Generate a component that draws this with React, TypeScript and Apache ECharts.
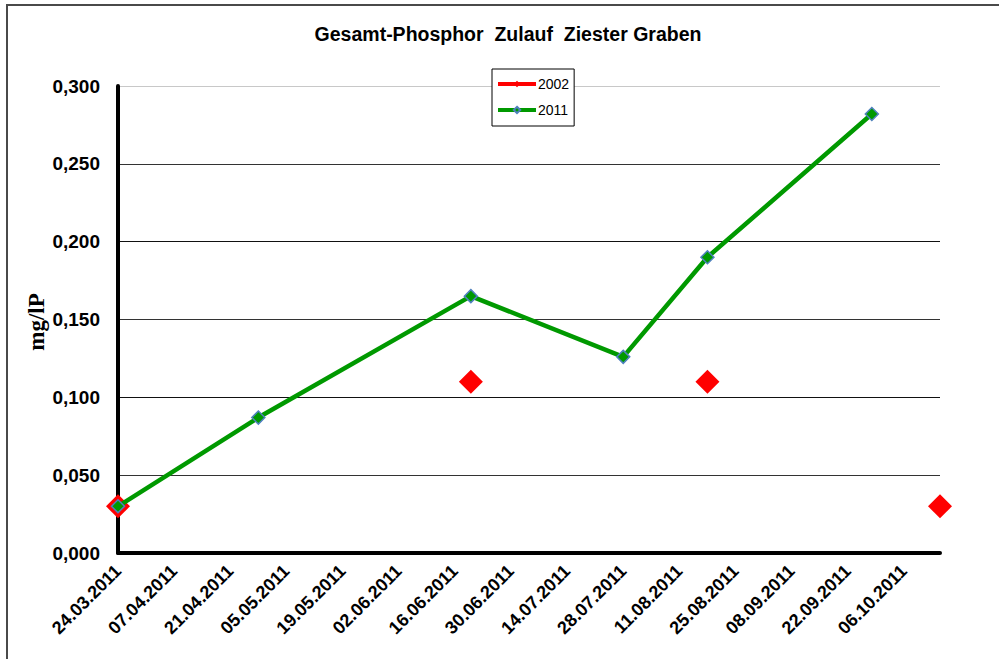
import React, { useEffect, useRef } from "react";
import * as echarts from "echarts";

const TITLE = "Gesamt-Phosphor  Zulauf  Ziester Graben";
const Y_NAME = "mg/lP";
const AXIS_START = "24.03.2011";
const AXIS_END = "15.10.2011";
const TICK_STEP_DAYS = 14;
const Y_TICKS = [0, 0.05, 0.1, 0.15, 0.2, 0.25, 0.3];

const dates2002 = ["24.03.2011", "20.06.2011", "18.08.2011", "15.10.2011"];
const values2002 = [0.03, 0.11, 0.11, 0.03];

const dates2011 = ["24.03.2011", "28.04.2011", "20.06.2011", "28.07.2011", "18.08.2011", "28.09.2011"];
const values2011 = [0.03, 0.087, 0.165, 0.126, 0.19, 0.282];

const DAY = 86400000;
function parseDate(s: string): number {
  const [d, m, y] = s.split(".").map(Number);
  return Date.UTC(y, m - 1, d);
}
const T0 = parseDate(AXIS_START);
const dayOf = (s: string) => Math.round((parseDate(s) - T0) / DAY);
function fmtDay(n: number): string {
  const dt = new Date(T0 + n * DAY);
  const dd = String(dt.getUTCDate()).padStart(2, "0");
  const mm = String(dt.getUTCMonth() + 1).padStart(2, "0");
  return `${dd}.${mm}.${dt.getUTCFullYear()}`;
}

export default function App() {
  const ref = useRef<HTMLDivElement>(null);
  useEffect(() => {
    document.body.style.margin = "0";
    const chart = echarts.init(ref.current!, undefined, { renderer: "svg" });
    const font = "Arial, 'Liberation Sans', sans-serif";
    chart.setOption({
      animation: false,
      backgroundColor: "#ffffff",
      title: {
        text: TITLE,
        left: 503,
        top: 19,
        textAlign: "center",
        textStyle: { fontFamily: font, fontWeight: "bold", fontSize: 19.5, color: "#000" },
      },
      legend: {
        orient: "vertical",
        left: 492,
        top: 69,
        padding: [8, 5, 9, 4],
        itemGap: 12,
        itemWidth: 38,
        itemHeight: 8,
        backgroundColor: "#fff",
        borderColor: "#000",
        borderWidth: 1,
        textStyle: { fontFamily: font, fontSize: 14, color: "#000", padding: [0, 0, 0, -3] },
        data: [
          { name: "2002", lineStyle: { color: "#ff0000", width: 4, opacity: 1 } },
          { name: "2011", lineStyle: { color: "#009900", width: 4, opacity: 1 } },
        ],
      },
      grid: { left: 118, right: 59, top: 86, bottom: 106 },
      xAxis: {
        type: "value",
        min: 0,
        max: dayOf(AXIS_END),
        interval: TICK_STEP_DAYS,
        axisLine: { show: true, onZero: false, lineStyle: { color: "#000", width: 4 } },
        axisTick: { show: false },
        splitLine: { show: false },
        axisLabel: {
          rotate: 45,
          margin: 15,
          showMaxLabel: false,
          fontFamily: font,
          fontWeight: "bold",
          fontSize: 18,
          color: "#000",
          formatter: (v: number) => fmtDay(v),
        },
      },
      yAxis: {
        type: "value",
        min: Y_TICKS[0],
        max: Y_TICKS[Y_TICKS.length - 1],
        interval: Y_TICKS[1] - Y_TICKS[0],
        axisLine: { show: true, onZero: false, lineStyle: { color: "#000", width: 4 } },
        axisTick: { show: false },
        splitLine: {
          show: true,
          lineStyle: { color: ["#000", "#333", "#111", "#333", "#111", "#333", "#c8c8c8"], width: 1 },
        },
        axisLabel: {
          margin: 18,
          fontFamily: font,
          fontWeight: "bold",
          fontSize: 19,
          color: "#000",
          formatter: (v: number) => v.toFixed(3).replace(".", ","),
        },
      },
      graphic: [
        {
          type: "rect",
          shape: { x: 7, y: 5, width: 1100, height: 800 },
          style: { fill: "none", stroke: "#4a4a4a", lineWidth: 2 },
          silent: true,
        },
        {
          type: "text",
          x: 36,
          y: 322,
          rotation: Math.PI / 2,
          style: {
            text: Y_NAME,
            fontFamily: "'Times New Roman', 'Liberation Serif', serif",
            fontWeight: "bold",
            fontSize: 23,
            fill: "#000",
            align: "center",
            verticalAlign: "middle",
          },
        },
      ],
      series: [
        {
          name: "2002",
          type: "line",
          data: dates2002.map((d, i) => [dayOf(d), values2002[i]]),
          symbol: "diamond",
          symbolSize: 24,
          lineStyle: { color: "#ff0000", width: 4, opacity: 0 },
          itemStyle: { color: "#ff0000" },
          z: 2,
        },
        {
          name: "2011",
          type: "line",
          data: dates2011.map((d, i) => [dayOf(d), values2011[i]]),
          symbol: "diamond",
          symbolSize: 13,
          lineStyle: { color: "#009900", width: 4.5 },
          itemStyle: { color: "#009900", borderColor: "#4f81bd", borderWidth: 1.5 },
          z: 3,
        },
      ],
    });
    return () => chart.dispose();
  }, []);
  return <div ref={ref} style={{ width: 999, height: 659 }} />;
}
